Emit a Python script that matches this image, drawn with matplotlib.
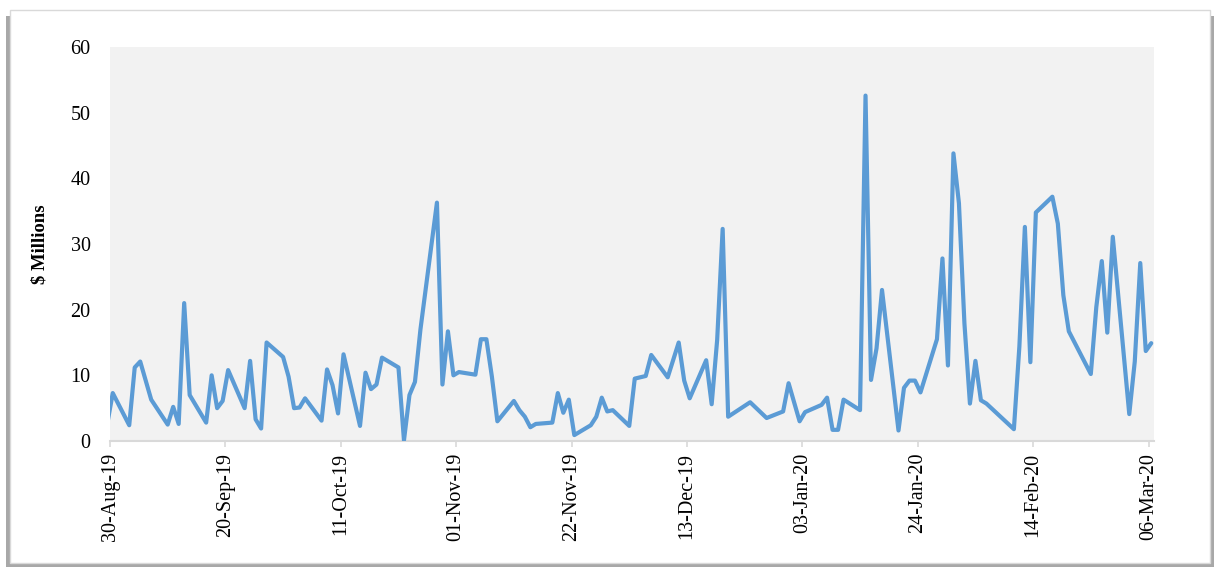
import matplotlib
matplotlib.use('Agg')
import matplotlib.pyplot as plt
from matplotlib.patches import Rectangle
import pandas as pd

dates = [
    '2019-08-29', '2019-08-30', '2019-09-02', '2019-09-03', '2019-09-04', '2019-09-06',
    '2019-09-09', '2019-09-10', '2019-09-11', '2019-09-12', '2019-09-13',
    '2019-09-16', '2019-09-17', '2019-09-18', '2019-09-19', '2019-09-20',
    '2019-09-23', '2019-09-24', '2019-09-25', '2019-09-26', '2019-09-27',
    '2019-09-30', '2019-10-01', '2019-10-02', '2019-10-03', '2019-10-04',
    '2019-10-07', '2019-10-08', '2019-10-09', '2019-10-10', '2019-10-11',
    '2019-10-14', '2019-10-15', '2019-10-16', '2019-10-17', '2019-10-18',
    '2019-10-21', '2019-10-22', '2019-10-23', '2019-10-24', '2019-10-25',
    '2019-10-28', '2019-10-29', '2019-10-30', '2019-10-31', '2019-11-01',
    '2019-11-04', '2019-11-05', '2019-11-06', '2019-11-07', '2019-11-08',
    '2019-11-11', '2019-11-12', '2019-11-13', '2019-11-14', '2019-11-15',
    '2019-11-18', '2019-11-19', '2019-11-20', '2019-11-21', '2019-11-22',
    '2019-11-25', '2019-11-26', '2019-11-27', '2019-11-28', '2019-11-29',
    '2019-12-02', '2019-12-03', '2019-12-05', '2019-12-06',
    '2019-12-09', '2019-12-11', '2019-12-12', '2019-12-13',
    '2019-12-16', '2019-12-17', '2019-12-18', '2019-12-19', '2019-12-20',
    '2019-12-24', '2019-12-27', '2019-12-30', '2019-12-31',
    '2020-01-02', '2020-01-03', '2020-01-06', '2020-01-07', '2020-01-08',
    '2020-01-09', '2020-01-10', '2020-01-13', '2020-01-14', '2020-01-15',
    '2020-01-16', '2020-01-17', '2020-01-20', '2020-01-21', '2020-01-22',
    '2020-01-23', '2020-01-24', '2020-01-27', '2020-01-28', '2020-01-29',
    '2020-01-30', '2020-01-31', '2020-02-01', '2020-02-02', '2020-02-03',
    '2020-02-04', '2020-02-05', '2020-02-10', '2020-02-11', '2020-02-12',
    '2020-02-13', '2020-02-14', '2020-02-17', '2020-02-18', '2020-02-19',
    '2020-02-20', '2020-02-24', '2020-02-25', '2020-02-26', '2020-02-27',
    '2020-02-28', '2020-03-02', '2020-03-03', '2020-03-04', '2020-03-05',
    '2020-03-06',
]

values = [
    2.6, 7.3, 2.4, 11.2, 12.1, 6.3,
    2.5, 5.2, 2.6, 21.0, 7.0,
    2.8, 10.0, 5.0, 6.1, 10.8,
    5.0, 12.2, 3.3, 1.9, 15.0,
    12.8, 9.8, 5.0, 5.1, 6.5,
    3.1, 10.9, 8.5, 4.2, 13.2,
    2.3, 10.4, 7.9, 8.6, 12.7,
    11.2, 0.1, 7.0, 9.0, 17.0,
    36.3, 8.6, 16.7, 10.0, 10.5,
    10.1, 15.5, 15.5, 9.8, 3.0,
    6.1, 4.7, 3.7, 2.1, 2.6,
    2.8, 7.3, 4.3, 6.3, 0.9,
    2.4, 3.7, 6.6, 4.5, 4.7,
    2.3, 9.5, 9.9, 13.1,
    9.7, 15.0, 9.2, 6.5,
    12.3, 5.6, 15.4, 32.3, 3.7,
    5.9, 3.5, 4.5, 8.8,
    3.0, 4.4, 5.5, 6.6, 1.7,
    1.7, 6.3, 4.7, 52.6, 9.3,
    14.1, 23.0, 1.6, 8.1, 9.2,
    9.2, 7.4, 15.5, 27.8, 11.5,
    43.8, 36.2, 17.9, 5.7, 12.2,
    6.2, 5.7, 1.8, 14.4, 32.6,
    12.0, 34.8, 37.2, 33.1, 22.2,
    16.7, 10.2, 20.4, 27.4, 16.5,
    31.1, 4.1, 12.1, 27.1, 13.7,
    14.9,
]

tick_dates = ['2019-08-30', '2019-09-20', '2019-10-11', '2019-11-01', '2019-11-22',
              '2019-12-13', '2020-01-03', '2020-01-24', '2020-02-14', '2020-03-06']
tick_labels = ['30-Aug-19', '20-Sep-19', '11-Oct-19', '01-Nov-19', '22-Nov-19',
               '13-Dec-19', '03-Jan-20', '24-Jan-20', '14-Feb-20', '06-Mar-20']
y_ticks = [0, 10, 20, 30, 40, 50, 60]

plt.rcParams['font.family'] = ['Liberation Serif', 'DejaVu Serif']

W, H = 1217, 569
fig = plt.figure(figsize=(W / 100, H / 100), dpi=100)
fig.patch.set_facecolor('white')

# chart frame with shadow
shadow = Rectangle((6 / W, 1 - 567 / H), (1214 - 6) / W, (567 - 16) / H,
                   transform=fig.transFigure, facecolor='#A8A8A8', edgecolor='none', zorder=-3)
frame = Rectangle((10 / W, 1 - 563 / H), (1210 - 10) / W, (563 - 10) / H,
                  transform=fig.transFigure, facecolor='white', edgecolor='#D9D9D9',
                  linewidth=1.0, zorder=-2)
fig.patches.extend([shadow, frame])

ax = fig.add_axes([110 / W, 1 - 441 / H, (1154 - 110) / W, (441 - 47) / H])
ax.set_zorder(1)
ax.set_facecolor('#F2F2F2')

x = pd.to_datetime(dates) + pd.Timedelta(hours=12)
ax.plot(x, values, color='#5B9BD5', linewidth=3.0, solid_joinstyle='round',
        solid_capstyle='round', zorder=3)

ax.set_xlim(pd.Timestamp('2019-08-30'), pd.Timestamp('2020-03-07'))
ax.set_ylim(0, 60)

ax.set_xticks(pd.to_datetime(tick_dates))
ax.set_xticklabels(tick_labels, rotation=90, fontsize=14.5)
ax.set_yticks(y_ticks)
ax.set_yticklabels([str(v) for v in y_ticks], fontsize=14.5)

for side in ['top', 'right', 'left']:
    ax.spines[side].set_visible(False)
ax.spines['bottom'].set_color('#D9D9D9')
ax.spines['bottom'].set_linewidth(1.5)

ax.tick_params(axis='x', direction='out', length=4, width=1.2, color='#D9D9D9',
               pad=4.5, labelcolor='black')
ax.tick_params(axis='y', length=0, pad=14, labelcolor='black')

fig.text(40 / W, 1 - 244 / H, r'\$ Millions', rotation=90, ha='center', va='center',
         fontsize=13.5, fontweight='bold', zorder=2)

fig.savefig('out.png', dpi=100)
